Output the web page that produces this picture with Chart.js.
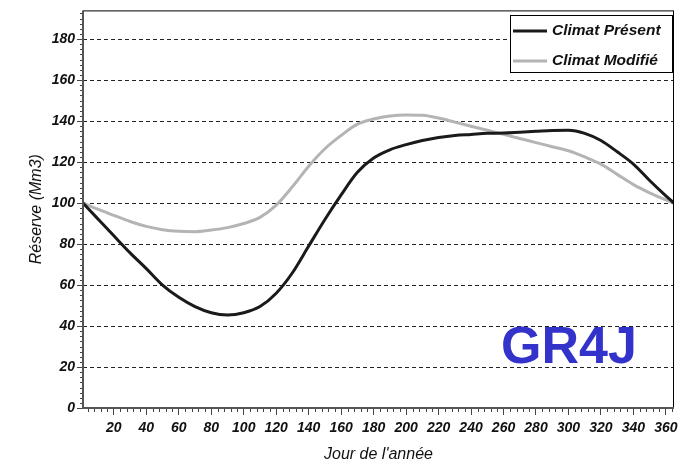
<!DOCTYPE html>
<html>
<head>
<meta charset="utf-8">
<script src="https://cdn.jsdelivr.net/npm/chart.js@4.4.1/dist/chart.umd.min.js"></script>
<style>
  html, body { margin: 0; padding: 0; background: #fff; }
  canvas { display: block; }
</style>
</head>
<body>
<canvas id="reserveChart" width="684" height="464"></canvas>
<script>
// jour de l'année
var days = [1, 10, 20, 30, 40, 50, 60, 70, 80, 90, 100, 110, 120, 130, 140, 150, 160, 170, 180,
    190, 200, 210, 220, 230, 240, 250, 260, 270, 280, 290, 300, 310, 320, 330, 340, 350, 360, 365];

// réserve (Mm3)
var climatPresent = [100, 92.4, 84, 75.7, 68, 60, 54, 49.5, 46.5, 45.4, 46.5, 49.5, 56, 66, 79, 92,
    104, 115, 122, 126, 128.5, 130.5, 132, 133, 133.5, 134, 134.2, 134.6, 135, 135.4, 135.5, 134,
    130.5, 125, 119, 111, 103.5, 100];
var climatModifie = [100, 97, 94, 91, 88.6, 87, 86.2, 86, 86.8, 88, 90, 93, 99, 108, 118, 126.5,
    133, 138.5, 141, 142.5, 143, 142.8, 141.5, 139.5, 137.5, 135.5, 133.5, 131.5, 129.5, 127.5,
    125.5, 122.5, 119, 114, 109, 105, 101.5, 100];

var seriesNames = ['Climat Présent', 'Climat Modifié'];
var xTicks = [20, 40, 60, 80, 100, 120, 140, 160, 180, 200, 220, 240, 260, 280, 300, 320, 340, 360];
var yTicks = [0, 20, 40, 60, 80, 100, 120, 140, 160, 180];

var FONT = "'Liberation Sans', Arial, sans-serif";

function toPoints(vals) {
    return vals.map(function (v, i) { return { x: days[i], y: v }; });
}

// petits traits secondaires + cadre + légende + étiquette du modèle
var decorations = {
    id: 'decorations',
    afterDraw: function (chart) {
        var ctx = chart.ctx;
        var area = chart.chartArea;
        var xs = chart.scales.x, ys = chart.scales.y;
        ctx.save();

        // minor ticks
        ctx.strokeStyle = '#444';
        ctx.lineWidth = 1;
        ctx.beginPath();
        for (var d = 4; d <= 364; d += 4) {
            if (d % 20 === 0) continue;
            var px = Math.round(xs.getPixelForValue(d)) + 0.5;
            ctx.moveTo(px, area.bottom);
            ctx.lineTo(px, area.bottom + 4);
        }
        for (var v = 2.5; v <= 192.5; v += 2.5) {
            if (v % 20 === 0) continue;
            var py = Math.round(ys.getPixelForValue(v)) + 0.5;
            ctx.moveTo(area.left - 3, py);
            ctx.lineTo(area.left, py);
        }
        ctx.stroke();

        // frame
        ctx.strokeStyle = '#000';
        ctx.lineWidth = 1;
        ctx.strokeRect(area.left + 0.5, area.top + 0.5, area.right - area.left - 1, area.bottom - area.top);
        ctx.strokeStyle = '#555';
        ctx.lineWidth = 2;
        ctx.beginPath();
        ctx.moveTo(area.left, area.top);
        ctx.lineTo(area.left, area.bottom);
        ctx.lineTo(area.right, area.bottom);
        ctx.stroke();

        // legend
        var lx = 510, ly = 15, lw = 162, lh = 57;
        ctx.fillStyle = '#fff';
        ctx.fillRect(lx, ly, lw, lh);
        ctx.strokeStyle = '#000';
        ctx.lineWidth = 1;
        ctx.strokeRect(lx + 0.5, ly + 0.5, lw, lh);
        var rows = [31, 61];
        chart.data.datasets.forEach(function (ds, i) {
            ctx.strokeStyle = ds.borderColor;
            ctx.lineWidth = 3;
            ctx.beginPath();
            ctx.moveTo(513, rows[i]);
            ctx.lineTo(547, rows[i]);
            ctx.stroke();
            ctx.fillStyle = '#111';
            ctx.font = 'italic bold 15.5px ' + FONT;
            ctx.textBaseline = 'middle';
            ctx.textAlign = 'left';
            ctx.fillText(ds.label, 552, rows[i]);
        });

        // model name
        ctx.fillStyle = '#3333cc';
        ctx.font = 'bold 52px ' + FONT;
        ctx.textBaseline = 'alphabetic';
        ctx.fillText('GR4J', 501, 363);
        ctx.restore();
    }
};

var chart = new Chart(document.getElementById('reserveChart').getContext('2d'), {
    type: 'line',
    data: {
        datasets: [{
            label: seriesNames[0],
            data: toPoints(climatPresent),
            borderColor: '#1a1a1a',
            borderWidth: 3,
            pointRadius: 0,
            cubicInterpolationMode: 'monotone'
        }, {
            label: seriesNames[1],
            data: toPoints(climatModifie),
            borderColor: '#b4b4b4',
            borderWidth: 3,
            pointRadius: 0,
            cubicInterpolationMode: 'monotone'
        }]
    },
    options: {
        responsive: false,
        animation: false,
        devicePixelRatio: 1,
        layout: { padding: { top: 8, right: 10, left: 0, bottom: 0 } },
        plugins: {
            legend: { display: false },
            tooltip: { enabled: false }
        },
        scales: {
            x: {
                type: 'linear',
                min: 1,
                max: 365,
                afterBuildTicks: function (scale) {
                    scale.ticks = xTicks.map(function (v) { return { value: v }; });
                },
                afterFit: function (scale) { scale.height = 56; },
                grid: {
                    drawOnChartArea: false,
                    drawTicks: true,
                    tickLength: 7,
                    tickColor: '#444'
                },
                border: { display: false },
                ticks: {
                    autoSkip: false,
                    maxRotation: 0,
                    padding: 5,
                    color: '#111',
                    font: { family: FONT, size: 14, style: 'italic', weight: 'bold' }
                },
                title: {
                    display: true,
                    text: "Jour de l'année",
                    color: '#111',
                    padding: { top: 0, bottom: 0 },
                    font: { family: FONT, size: 16, style: 'italic' }
                }
            },
            y: {
                type: 'linear',
                min: 0,
                max: 194,
                afterBuildTicks: function (scale) {
                    scale.ticks = yTicks.map(function (v) { return { value: v }; });
                },
                afterFit: function (scale) { scale.width = 83; },
                grid: {
                    color: '#222',
                    lineWidth: 1,
                    tickBorderDash: [],
                    tickColor: '#444',
                    tickLength: 6
                },
                border: { display: false, dash: [4, 3] },
                ticks: {
                    padding: 2,
                    color: '#111',
                    font: { family: FONT, size: 14, style: 'italic', weight: 'bold' }
                },
                title: {
                    display: true,
                    text: 'Réserve (Mm3)',
                    color: '#111',
                    padding: { top: 27, bottom: 0 },
                    font: { family: FONT, size: 16, style: 'italic' }
                }
            }
        }
    },
    plugins: [decorations]
});
</script>
</body>
</html>
